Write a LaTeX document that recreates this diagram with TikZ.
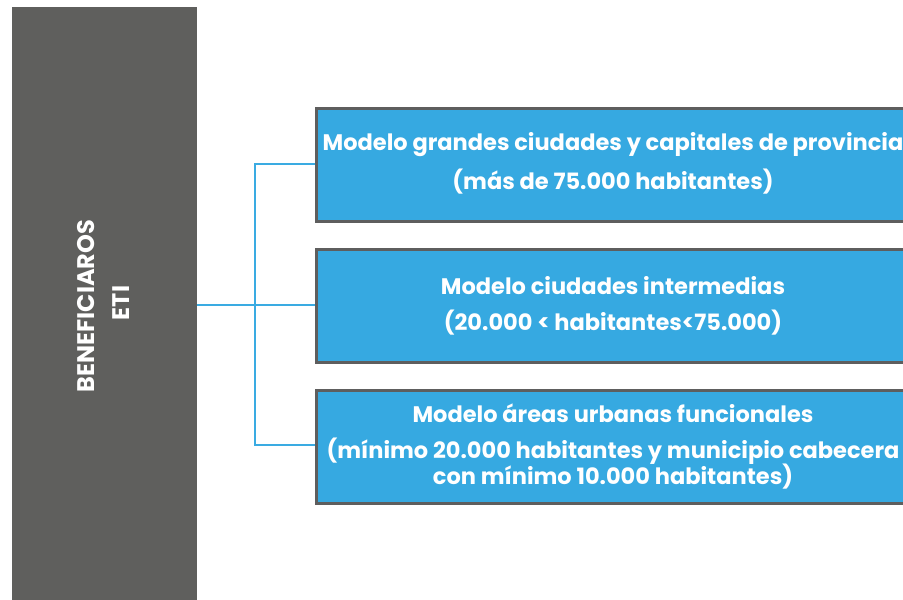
\documentclass[tikz,border=0pt]{standalone}
\usepackage{fontspec}
\setmainfont{Poppins}
\definecolor{barGray}{HTML}{5F5F5D}
\definecolor{boxBlue}{HTML}{36A9E1}
\definecolor{boxEdge}{HTML}{5E5E5E}
\definecolor{lineBlue}{HTML}{3AABE2}
\tikzset{
  modelbox/.style={draw=boxEdge, line width=3pt, fill=boxBlue, minimum width=596pt, minimum height=113pt, inner sep=0pt, anchor=north west},
  boxtext/.style={text=white, font=\fontsize{22.5}{26}\selectfont\bfseries, inner sep=0pt},
  bartext/.style={text=white, font=\fontsize{24}{28}\selectfont\bfseries, inner sep=0pt, rotate=90},
  conn/.style={draw=lineBlue, line width=2.5pt},
}
\begin{document}
\begin{tikzpicture}[x=1pt,y=-1pt]
\useasboundingbox (0,0) rectangle (903,600);
\clip (0,0) rectangle (903,600);
\node[fill=barGray, minimum width=185pt, minimum height=600pt, inner sep=0pt, anchor=north west] (bar) at (12,7) {};
\node[bartext] (t1) at (86,306) {BENEFICIAROS};
\node[bartext] (t2) at (121,303) {ETI};
\node[modelbox] (b1) at (315,107) {};
\node[modelbox] (b2) at (315,248) {};
\node[modelbox] (b3) at (315,389) {};
\node[boxtext] (l11) at (613,145) {Modelo grandes ciudades y capitales de provincia};
\node[boxtext] (l12) at (613,182) {(más de 75.000 habitantes)};
\node[boxtext] (l21) at (613,286) {Modelo ciudades intermedias};
\node[boxtext] (l22) at (613,323) {(20.000 < habitantes<75.000)};
\node[boxtext] (l31) at (613,413) {Modelo áreas urbanas funcionales};
\node[boxtext] (l32) at (613,451) {(mínimo 20.000 habitantes y municipio cabecera};
\node[boxtext] (l33) at (613,477) {con mínimo 10.000 habitantes)};
\coordinate (j) at (255,305);
\draw[conn] (bar.east |- j) -- (b2.west |- j);
\draw[conn] (b1.west |- 0,164) -| (255,445) -- (b3.west |- 0,445);
\end{tikzpicture}
\end{document}
